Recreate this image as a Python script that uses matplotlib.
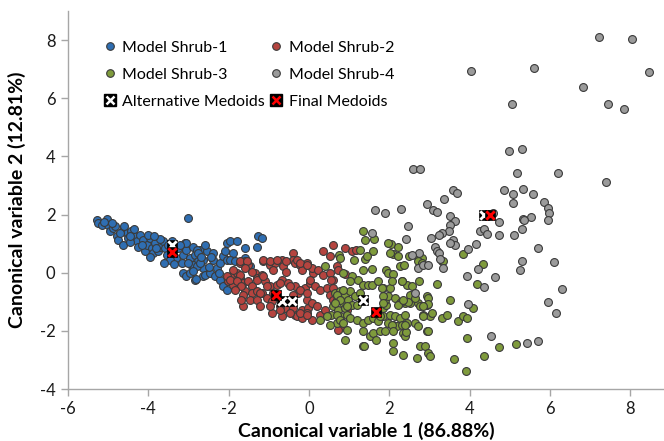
import matplotlib
matplotlib.use("Agg")
import matplotlib.pyplot as plt
from matplotlib.lines import Line2D
from matplotlib.legend_handler import HandlerTuple

plt.rcParams['font.family'] = ['Lato', 'DejaVu Sans']
plt.rcParams['axes.unicode_minus'] = False

# ---------------- data ----------------
shrub1_x = [-5.29,-5.25,-5.16,-5.04,-5.00,-4.96,-4.87,-4.83,-4.79,-4.75,-4.62,-4.62,-4.54,-4.50,-4.42,-4.33,
            -4.29,-4.25,-4.21,-4.13,-4.08,-4.04,-3.96,-3.92,-3.88,-3.84,-3.75,-3.71,-3.63,-3.59,-3.54,-3.30,
            -3.26,-3.17,-3.13,-3.09,-3.05,-3.01,-2.96,-2.92,-2.88,-2.84,-3.13,-3.05,-2.84,-2.76,-2.72,-2.63,
            -2.63,-3.05,-2.80,-2.76,-2.55,-2.38,-2.38,-2.63,-2.88,-2.80,-2.71,-2.96,-2.82,-2.59,-2.47,-2.34,
            -2.30,-2.22,-2.13,-2.05,-2.05,-1.97,-1.80,-2.09,-1.89,-1.97,-1.84,-1.59,-1.30,-1.26,-1.18,-1.59,
            -1.47,-2.22,-2.13,-2.05,-5.10,-4.90,-4.70,-4.60,-4.45,-4.35,-4.15,-4.00,-3.95,-3.80,-3.70,-3.50,
            -3.45,-3.40,-3.35,-3.20,-3.00,-2.90,-2.70,-2.50,-2.45,-2.60,-3.85,-4.45,-3.60,-2.25]
shrub1_y = [1.80,1.71,1.63,1.86,1.65,1.42,1.54,1.59,1.25,1.13,1.48,0.94,1.36,1.19,1.42,1.25,
            1.08,0.90,1.31,1.13,0.73,0.96,1.19,0.85,0.68,1.02,0.73,0.90,1.08,0.85,0.62,0.50,
            0.85,0.33,0.62,1.02,0.79,1.88,0.50,0.22,0.90,0.62,-0.01,-0.13,-0.24,0.39,0.79,0.16,
            -0.13,1.02,0.79,0.68,0.73,0.68,0.45,0.45,0.27,0.22,0.33,-0.01,-0.21,-0.07,-0.01,-0.13,
            0.16,0.33,0.56,0.45,1.02,1.08,1.08,0.73,0.68,0.45,0.39,0.85,0.90,1.25,1.19,0.50,
            0.22,-0.24,-0.47,-0.58,1.75,1.70,1.35,1.60,1.05,1.50,0.95,1.30,0.55,0.85,1.15,0.95,
            0.45,1.10,0.30,0.95,0.35,0.05,0.55,0.20,0.55,0.95,1.25,1.25,0.35,0.00]

shrub2_x = [-1.72,-1.59,-1.51,-1.93,-1.80,-1.72,-2.01,-1.89,-1.64,-1.51,-1.43,-1.35,-1.30,-1.18,-1.59,-1.43,
            -1.30,-1.14,-0.97,-0.85,-0.89,-0.68,-0.64,-0.56,-0.39,-0.39,-0.35,-0.22,-0.18,-1.10,-0.97,-0.80,
            -0.68,-0.51,-1.18,-1.05,-0.93,-0.35,-0.27,-0.10,0.02,0.11,-1.64,-0.93,-0.68,-0.35,-0.18,-0.02,
            -0.31,-0.06,0.07,0.36,0.52,0.61,0.23,0.36,0.52,0.61,0.02,0.15,0.27,0.44,0.52,0.61,
            -0.06,0.07,0.19,0.27,0.40,-0.47,-0.31,-0.18,-0.06,-0.60,-0.72,-0.97,0.07,0.77,
            -1.72,-1.55,-1.59,-1.43,-1.89,-2.05,-1.97,-1.72,-1.80,-1.68,-1.84,-1.64,-1.68,-1.14,-0.97,-0.80,
            -0.56,-0.22,-0.06,-1.30,-1.14,-1.05,-1.22,-0.89,-0.72,-0.47,-0.39,-0.22,-0.06,-0.39,-0.22,-0.06,
            -1.47,-1.30,-1.22,-0.72,-0.47,0.90,1.06,1.17,0.69,0.73,0.90,0.56,0.61,0.73,0.94]
shrub2_y = [0.33,0.39,0.27,-0.13,-0.01,-0.18,-0.30,-0.41,-0.35,-0.30,-0.47,-0.01,-0.18,-0.07,-0.64,-0.70,
            -0.64,0.39,0.27,0.33,0.10,0.45,0.22,0.04,0.68,0.45,0.33,0.27,0.10,-0.30,-0.47,-0.41,
            -0.24,-0.35,-0.70,-0.87,-0.99,-0.47,-0.70,-0.53,-0.35,-0.01,-1.16,-1.38,-1.50,-1.44,-1.27,-1.21,
            0.45,0.33,0.16,0.73,0.56,0.96,0.10,-0.07,-0.01,-0.24,-0.24,-0.47,-0.58,-0.53,-0.76,-0.93,
            -0.93,-1.04,-1.16,-1.44,-1.27,-1.33,-1.50,-1.56,-1.38,-1.21,-1.16,-1.16,-1.62,-1.89,
            0.39,0.39,0.16,0.04,0.10,-0.13,-0.24,-0.07,-0.30,-0.47,-0.58,-0.76,-0.93,0.45,0.39,0.45,
            0.39,0.33,0.27,-0.24,-0.13,-0.47,-0.70,-0.70,-0.35,-0.47,-0.76,-0.58,-0.70,-1.21,-1.38,-1.44,
            -0.93,-0.93,-1.16,-1.27,-1.38,0.85,0.73,0.77,0.22,0.10,-0.03,-0.24,-0.53,-1.96,-1.27]

shrub3_x = [0.65,0.77,0.90,1.02,1.15,1.27,0.69,0.85,0.98,0.61,0.73,0.90,1.06,1.19,0.56,0.77,
            0.94,1.02,1.19,0.69,0.94,0.90,1.35,1.48,1.60,1.73,1.85,1.35,1.52,1.60,1.77,1.89,
            1.35,1.85,1.93,1.89,1.98,2.14,2.27,2.39,2.52,2.02,2.14,2.27,2.39,2.43,1.98,2.10,
            2.18,2.31,2.35,2.39,2.10,2.10,2.35,2.68,2.76,2.89,2.97,3.01,2.64,2.72,2.93,2.52,
            2.72,2.76,2.93,2.85,3.01,3.06,2.93,3.30,3.43,3.51,3.72,3.84,3.93,4.09,3.93,3.61,
            3.90,4.36,1.39,1.60,2.04,2.22,2.08,2.22,0.76,1.27,1.13,1.39,1.44,1.34,1.56,2.50,
            2.72,2.81,2.27,2.37,1.93,1.98,2.10,2.31,2.43,2.56,2.75,3.19,3.32,3.83,1.06,1.02,
            1.23,1.35,1.48,1.56,1.73,1.85,2.02,0.85,1.35,1.62,1.98,2.02,0.27,0.44,0.52,0.69,
            0.77,0.85,0.94,0.77,0.40,0.69,0.77,0.65,0.85,1.38,1.68,4.74,5.15,4.34,4.18,2.72,
            2.81,3.33,2.96,2.96,2.85,2.85,2.47,2.64,2.30,2.96,2.42,2.06,2.31,1.81,1.85,1.85,
            2.22,2.35,1.77,2.06,2.39,2.10]
shrub3_y = [-0.70,-0.64,-0.76,-0.64,-0.81,-0.70,-0.93,-1.04,-0.93,-1.16,-1.27,-1.21,-1.10,-1.10,-1.44,-1.50,
            -1.44,-1.56,-1.62,-1.73,-1.96,-2.30,-1.73,-1.62,-1.56,-1.67,-1.50,-2.02,-2.19,-2.07,-2.02,-2.02,
            -2.53,-1.21,-1.10,-0.93,-0.81,-0.87,-1.04,-1.04,-1.04,-1.44,-1.50,-1.56,-1.44,-1.73,-1.73,-1.79,
            -1.85,-1.79,-2.07,-2.19,-2.42,-2.70,-2.82,-2.93,-2.53,-2.53,-2.76,-2.88,-1.73,-1.85,-2.02,-0.76,
            -1.04,-1.16,-1.10,-1.44,-1.50,-1.38,-0.81,-1.56,-1.44,-0.93,-1.67,-1.50,-1.56,-1.21,-2.25,-2.96,
            -3.37,-2.88,1.11,0.75,0.99,0.87,0.63,0.56,0.60,0.79,0.44,0.46,0.56,0.10,0.14,0.56,
            0.53,0.51,0.22,0.27,0.10,-0.01,-0.03,-0.27,-0.41,-0.45,-0.27,-0.38,0.41,0.63,-0.13,-0.30,
            -0.24,-0.41,-0.41,-0.41,-0.30,-0.53,-0.53,-0.58,1.42,1.16,1.02,0.68,-1.62,-1.50,-1.79,-1.44,
            -1.62,-1.73,-1.16,0.50,0.22,-0.76,-0.93,-1.04,-0.01,-2.51,-2.30,-2.56,-2.44,0.31,-0.39,0.39,
            0.33,0.39,-0.86,-1.08,-1.16,-1.50,-1.02,-0.87,-1.01,-2.00,-2.05,-0.30,-0.30,-0.53,-0.81,-1.04,
            -1.10,-0.93,-1.50,-1.79,-1.79,-2.02]

shrub4_x = [7.22,8.05,8.47,4.03,5.60,6.82,7.44,7.85,5.06,4.98,5.31,2.58,2.76,5.18,6.21,7.39,
            3.58,3.69,3.37,4.86,5.07,5.33,5.59,5.08,5.86,5.96,5.98,5.96,2.93,3.08,3.20,2.28,
            1.89,1.64,3.51,5.53,5.34,4.72,4.59,3.63,3.51,2.47,3.49,3.30,3.25,3.03,2.42,4.26,
            4.37,4.43,4.72,5.10,5.31,5.35,3.58,3.63,3.51,4.16,3.96,3.13,3.18,3.23,2.75,2.56,
            3.26,3.33,2.72,2.85,2.96,5.70,6.10,5.30,5.26,4.21,3.94,4.63,4.37,6.30,2.63,5.94,
            6.14,3.97,4.52,5.43,5.71,1.56]
shrub4_y = [8.09,8.05,6.91,6.95,7.03,6.37,5.81,5.62,5.81,4.20,4.26,3.58,3.55,3.44,3.44,3.12,
            2.86,2.73,2.53,2.83,2.69,2.87,2.69,2.38,2.42,2.23,2.05,1.82,2.35,2.16,2.10,2.18,
            2.05,2.16,1.96,1.92,1.86,1.76,2.07,1.79,1.65,1.60,1.44,1.38,1.28,1.19,1.17,1.42,
            1.49,1.32,1.31,1.28,1.51,1.81,1.11,0.95,1.02,0.99,0.80,0.90,0.73,0.68,0.68,0.62,
            0.48,0.16,0.17,0.25,0.25,0.84,0.38,0.40,0.08,0.11,-0.13,-0.14,-0.49,-0.57,-0.71,-1.01,
            -1.40,-1.08,-2.19,-2.41,-2.34,1.36]

alt_medoid_x = [-3.40, -0.66, -0.43, 1.35, 4.36]
alt_medoid_y = [0.94, -0.99, -0.96, -0.93, 1.99]
final_medoid_x = [-3.42, -0.83, 1.66, 4.51]
final_medoid_y = [0.70, -0.76, -1.36, 1.99]

series_labels = ["Model Shrub-1", "Model Shrub-2", "Model Shrub-3", "Model Shrub-4"]
x_ticks = [-6, -4, -2, 0, 2, 4, 6, 8]
y_ticks = [-4, -2, 0, 2, 4, 6, 8]

# ---------------- style ----------------
colors = ['#2F6EB2', '#B5443F', '#7F9B3C', '#9B9B9B']
edge = '#3a3a3a'
pt_size = 32

fig = plt.figure(figsize=(6.64, 4.41), dpi=100)
ax = fig.add_axes([68/664, 52/441, 596/664, 378/441])

series = [(shrub1_x, shrub1_y), (shrub2_x, shrub2_y), (shrub3_x, shrub3_y), (shrub4_x, shrub4_y)]
for (xs, ys), c, lab in zip(series, colors, series_labels):
    ax.scatter(xs, ys, s=pt_size, c=c, edgecolors=edge, linewidths=0.8, zorder=3)

ax.scatter(alt_medoid_x, alt_medoid_y, s=60, marker='s', c='black', edgecolors='black', linewidths=0.5, zorder=5)
ax.scatter(alt_medoid_x, alt_medoid_y, s=36, marker='x', c='white', linewidths=2.0, zorder=6)
ax.scatter(final_medoid_x, final_medoid_y, s=60, marker='s', c='black', edgecolors='black', linewidths=0.5, zorder=7)
ax.scatter(final_medoid_x, final_medoid_y, s=36, marker='x', c='#FF0000', linewidths=2.0, zorder=8)

ax.set_xlim(-6, 8.84)
ax.set_ylim(-4, 9.0)
ax.set_xticks(x_ticks)
ax.set_yticks(y_ticks)
for s in ['top', 'right']:
    ax.spines[s].set_visible(False)
for s in ['left', 'bottom']:
    ax.spines[s].set_color('#A6A6A6')
    ax.spines[s].set_linewidth(1.0)
ax.tick_params(axis='both', direction='out', length=5, width=1.0, color='#A6A6A6',
               labelsize=12, labelcolor='#1a1a1a', pad=4)

ax.set_xlabel("Canonical variable 1 (86.88%)", fontsize=14, fontweight='bold', labelpad=3)
ax.set_ylabel("Canonical variable 2 (12.81%)", fontsize=14, fontweight='bold', labelpad=10)

def pt(c):
    return Line2D([], [], linestyle='none', marker='o', markersize=5.5, markerfacecolor=c,
                  markeredgecolor=edge, markeredgewidth=0.8)

alt_h = (Line2D([], [], linestyle='none', marker='s', markersize=8, markerfacecolor='black', markeredgecolor='black'),
         Line2D([], [], linestyle='none', marker='x', markersize=6, markeredgecolor='white', markeredgewidth=1.8))
fin_h = (Line2D([], [], linestyle='none', marker='s', markersize=8, markerfacecolor='black', markeredgecolor='black'),
         Line2D([], [], linestyle='none', marker='x', markersize=6, markeredgecolor='#FF0000', markeredgewidth=1.8))

handles = [pt(colors[0]), pt(colors[2]), alt_h, pt(colors[1]), pt(colors[3]), fin_h]
labels = [series_labels[0], series_labels[2], "Alternative Medoids",
          series_labels[1], series_labels[3], "Final Medoids"]
ax.legend(handles, labels, ncol=2, loc='upper left', bbox_to_anchor=(0.035, 0.96), frameon=False,
          fontsize=11.5, handlelength=0.8, handletextpad=0.4, columnspacing=0.3, labelspacing=0.8,
          handler_map={tuple: HandlerTuple(ndivide=1)})

fig.savefig("out.png", dpi=100)
